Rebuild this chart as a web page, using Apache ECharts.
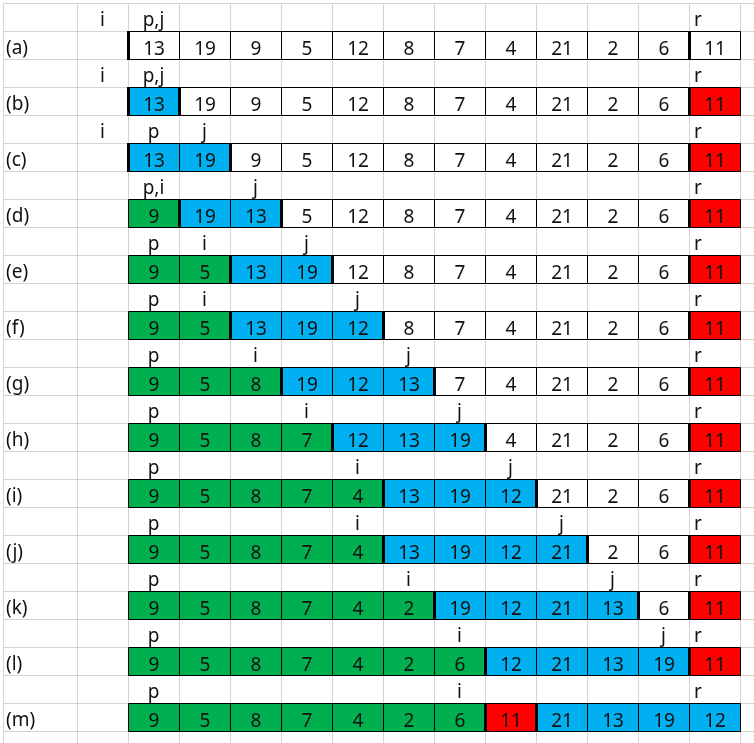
<!DOCTYPE html>
<html>
<head>
<meta charset="utf-8">
<script src="https://cdn.jsdelivr.net/npm/echarts@6.0.0/dist/echarts.min.js"></script>
<style>
  html, body { margin: 0; padding: 0; background: #fff; }
  #main { width: 754px; height: 743px; }
</style>
</head>
<body>
<div id="main"></div>
<script>
// step names shown at the left
const stepNames = ['(a)', '(b)', '(c)', '(d)', '(e)', '(f)', '(g)', '(h)', '(i)', '(j)', '(k)', '(l)', '(m)'];

// array contents for each step
const values = [
  [13, 19, 9, 5, 12, 8, 7, 4, 21, 2, 6, 11],
  [13, 19, 9, 5, 12, 8, 7, 4, 21, 2, 6, 11],
  [13, 19, 9, 5, 12, 8, 7, 4, 21, 2, 6, 11],
  [9, 19, 13, 5, 12, 8, 7, 4, 21, 2, 6, 11],
  [9, 5, 13, 19, 12, 8, 7, 4, 21, 2, 6, 11],
  [9, 5, 13, 19, 12, 8, 7, 4, 21, 2, 6, 11],
  [9, 5, 8, 19, 12, 13, 7, 4, 21, 2, 6, 11],
  [9, 5, 8, 7, 12, 13, 19, 4, 21, 2, 6, 11],
  [9, 5, 8, 7, 4, 13, 19, 12, 21, 2, 6, 11],
  [9, 5, 8, 7, 4, 13, 19, 12, 21, 2, 6, 11],
  [9, 5, 8, 7, 4, 2, 19, 12, 21, 13, 6, 11],
  [9, 5, 8, 7, 4, 2, 6, 12, 21, 13, 19, 11],
  [9, 5, 8, 7, 4, 2, 6, 11, 21, 13, 19, 12]
];

// cell fill per step: g = <= pivot, b = > pivot, r = pivot, w = untouched
const fills = [
  'wwwwwwwwwwww',
  'bwwwwwwwwwwr',
  'bbwwwwwwwwwr',
  'gbbwwwwwwwwr',
  'ggbbwwwwwwwr',
  'ggbbbwwwwwwr',
  'gggbbbwwwwwr',
  'ggggbbbwwwwr',
  'gggggbbbwwwr',
  'gggggbbbbwwr',
  'ggggggbbbbwr',
  'gggggggbbbbr',
  'gggggggrbbbb'
];

// column boundaries drawn with a heavy border, per step
const thickEdges = [
  [0, 11], [0, 1, 11], [0, 2, 11], [1, 3, 11], [2, 4, 11], [2, 5, 11], [3, 6, 11],
  [4, 7, 11], [5, 8, 11], [5, 9, 11], [6, 10, 11], [7, 11], [7, 8]
];

// pointer labels above each step: [text, column]
const pointers = [
  [['i', -1], ['p,j', 0], ['r', 11]],
  [['i', -1], ['p,j', 0], ['r', 11]],
  [['i', -1], ['p', 0], ['j', 1], ['r', 11]],
  [['p,i', 0], ['j', 2], ['r', 11]],
  [['p', 0], ['i', 1], ['j', 3], ['r', 11]],
  [['p', 0], ['i', 1], ['j', 4], ['r', 11]],
  [['p', 0], ['i', 2], ['j', 5], ['r', 11]],
  [['p', 0], ['i', 3], ['j', 6], ['r', 11]],
  [['p', 0], ['i', 4], ['j', 7], ['r', 11]],
  [['p', 0], ['i', 4], ['j', 8], ['r', 11]],
  [['p', 0], ['i', 5], ['j', 9], ['r', 11]],
  [['p', 0], ['i', 6], ['j', 10], ['r', 11]],
  [['p', 0], ['i', 6], ['r', 11]]
];

const fillColors = { w: '#ffffff', g: '#00b050', b: '#00b0f0', r: '#ff0000' };
const FONT = '19px "Noto Sans", "Noto Sans CJK SC", sans-serif';
const TEXT_DY = 4;
const gridColor = '#d4d4d4';

const cells = [];
values.forEach((row, si) => row.forEach((v, c) => cells.push({ si, c, v, f: fills[si][c] })));
const edges = [];
thickEdges.forEach((list, si) => list.forEach(b => edges.push({ si, b })));
const marks = [];
pointers.forEach((list, si) => list.forEach(([t, c]) => marks.push({ si, c, t })));

const crisp = v => Math.round(v) + 0.5;

const chart = echarts.init(document.getElementById('main'));

const splitLine = { show: true, showMaxLine: false, lineStyle: { color: gridColor, width: 1 } };
const hidden = { axisLine: { show: false }, axisTick: { show: false }, axisLabel: { show: false } };
const rowAxis = {
  type: 'value', inverse: true, min: 0, max: 26 + 12 / 28, interval: 1,
  splitLine, ...hidden
};

chart.setOption({
  animation: false,
  backgroundColor: '#fff',
  grid: [
    { left: 77, right: 0, top: 3, bottom: 0 },
    { left: 3, width: 74, top: 3, bottom: 0 }
  ],
  xAxis: [
    { type: 'value', gridIndex: 0, min: -1, max: 12 + 14 / 51, interval: 1, splitLine, ...hidden },
    { type: 'value', gridIndex: 1, min: 0, max: 1, interval: 1, splitLine: { ...splitLine, showMaxLine: true }, ...hidden }
  ],
  yAxis: [
    { ...rowAxis, gridIndex: 0 },
    { ...rowAxis, gridIndex: 1 }
  ],
  series: [
    {
      name: 'cells',
      type: 'custom',
      xAxisIndex: 0, yAxisIndex: 0,
      data: cells.map(d => [d.c, d.si * 2 + 1]),
      renderItem: (params, api) => {
        const d = cells[params.dataIndex];
        const p0 = api.coord([d.c, d.si * 2 + 1]);
        const p1 = api.coord([d.c + 1, d.si * 2 + 2]);
        const x0 = crisp(p0[0]), y0 = crisp(p0[1]), x1 = crisp(p1[0]), y1 = crisp(p1[1]);
        return {
          type: 'group',
          children: [
            { type: 'rect', shape: { x: x0, y: y0, width: x1 - x0, height: y1 - y0 },
              style: { fill: fillColors[d.f], stroke: '#000', lineWidth: 1 } },
            { type: 'text', style: { text: String(d.v), x: (x0 + x1) / 2, y: (y0 + y1) / 2 + TEXT_DY,
              align: 'center', verticalAlign: 'middle', font: FONT, fill: '#111' } }
          ]
        };
      }
    },
    {
      name: 'edges',
      type: 'custom',
      xAxisIndex: 0, yAxisIndex: 0,
      data: edges.map(d => [d.b, d.si * 2 + 1]),
      renderItem: (params, api) => {
        const d = edges[params.dataIndex];
        const p0 = api.coord([d.b, d.si * 2 + 1]);
        const p1 = api.coord([d.b, d.si * 2 + 2]);
        const x = crisp(p0[0]);
        return { type: 'line', shape: { x1: x, y1: crisp(p0[1]) - 0.5, x2: x, y2: crisp(p1[1]) + 0.5 },
          style: { stroke: '#000', lineWidth: 3 } };
      }
    },
    {
      name: 'pointers',
      type: 'custom',
      xAxisIndex: 0, yAxisIndex: 0,
      data: marks.map(d => [d.c, d.si * 2]),
      renderItem: (params, api) => {
        const d = marks[params.dataIndex];
        const p0 = api.coord([d.c, d.si * 2]);
        const p1 = api.coord([d.c + 1, d.si * 2 + 1]);
        const left = d.t === 'r';
        return { type: 'text', style: { text: d.t, x: left ? p0[0] + 5 : (p0[0] + p1[0]) / 2,
          y: (p0[1] + p1[1]) / 2 + TEXT_DY, align: left ? 'left' : 'center', verticalAlign: 'middle',
          font: FONT, fill: '#111' } };
      }
    },
    {
      name: 'steps',
      type: 'custom',
      xAxisIndex: 1, yAxisIndex: 1,
      data: stepNames.map((n, si) => [0, si * 2 + 1]),
      renderItem: (params, api) => {
        const si = params.dataIndex;
        const p0 = api.coord([0, si * 2 + 1]);
        const p1 = api.coord([0, si * 2 + 2]);
        return { type: 'text', style: { text: stepNames[si], x: p0[0] + 3, y: (p0[1] + p1[1]) / 2 + TEXT_DY,
          align: 'left', verticalAlign: 'middle', font: FONT, fill: '#111' } };
      }
    }
  ]
});

window.onresize = () => chart.resize();
</script>
</body>
</html>
